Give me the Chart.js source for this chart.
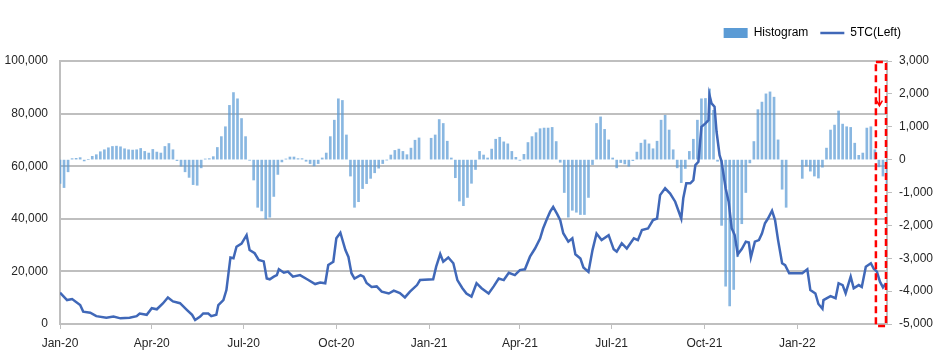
<!DOCTYPE html>
<html>
<head>
<meta charset="utf-8">
<script src="https://cdn.jsdelivr.net/npm/chart.js@4.4.1/dist/chart.umd.min.js"></script>
<style>
  html, body { margin: 0; padding: 0; background: #fff; }
  #wrap { width: 944px; height: 361px; }
</style>
</head>
<body>
<div id="wrap"><canvas id="Chart"></canvas></div>
<script>
// x values are days counted from 1 Jan 2020
var quarterDays = [0, 91, 182, 274, 366, 456, 547, 639, 731];
var quarterLabels = ['Jan-20', 'Apr-20', 'Jul-20', 'Oct-20', 'Jan-21', 'Apr-21', 'Jul-21', 'Oct-21', 'Jan-22'];

// 5TC line (left axis)
var lineDays = [0, 7, 12, 20, 23, 30, 36, 46, 53, 60, 69, 76, 79, 86, 91, 96, 102, 107, 112, 119,
    126, 131, 134, 139, 142, 147, 150, 155, 157, 162, 165, 169, 172, 175, 180, 185, 188, 193, 197, 202,
    205, 208, 212, 215, 217, 222, 226, 231, 238, 245, 253, 258, 263, 266, 271, 274, 278, 283, 286, 289,
    292, 298, 301, 304, 309, 314, 319, 326, 331, 337, 342, 347, 354, 357, 370, 373, 377, 380, 385, 390,
    394, 399, 403, 408, 413, 418, 425, 430, 435, 440, 445, 451, 456, 461, 466, 471, 476, 479, 483, 486,
    489, 493, 496, 499, 504, 508, 511, 516, 519, 524, 528, 532, 537, 544, 549, 552, 557, 562, 569, 573,
    577, 583, 588, 592, 595, 600, 605, 610, 616, 618, 621, 625, 628, 630, 633, 636, 640, 643, 644, 646,
    649, 651, 654, 656, 660, 663, 666, 669, 672, 676, 680, 683, 685, 689, 693, 696, 699, 702, 706, 709,
    712, 716, 719, 723, 731, 736, 741, 744, 749, 752, 756, 757, 764, 769, 772, 776, 779, 784, 787, 792,
    795, 799, 804, 807, 810, 813, 816, 819];
var lineValues = [11900, 9100, 9500, 7200, 4700, 4300, 3000, 2400, 2800, 2150, 2400, 3000, 4000, 3500, 6000, 5600, 7800, 10100, 8600, 7900,
    5300, 3500, 1500, 2800, 4000, 4000, 3000, 3500, 7200, 9100, 12900, 25300, 25000, 29400, 30600, 33800, 28100, 26900, 24400, 23800,
    17300, 17000, 18000, 18600, 20800, 19500, 19900, 18000, 18600, 17000, 15200, 15800, 15500, 22400, 23700, 32600, 34700, 28100, 25500, 19300,
    17300, 18600, 18000, 15600, 14100, 14300, 12300, 11600, 12700, 11800, 10100, 12300, 14800, 16700, 17000, 21800, 26600, 23700, 25300, 23100,
    16700, 13600, 11600, 10400, 15500, 13600, 11600, 14300, 17300, 16700, 19500, 18600, 20500, 20800, 25600, 28700, 32500, 36300, 40100, 42700,
    44500, 41800, 39500, 34500, 31300, 32600, 26500, 24900, 21500, 19800, 28100, 34400, 31900, 33800, 28400, 27500, 30700, 28700, 32600, 31900,
    35700, 36300, 39500, 40100, 49000, 51600, 49600, 46500, 40100, 47800, 53500, 53500, 54700, 60400, 61700, 75000, 76300, 77500, 87000, 83900,
    82600, 73100, 64200, 61700, 51600, 46500, 36400, 33800, 26500, 28500, 31300, 31000, 25300, 31300, 31900, 34400, 38300, 40100, 43100, 39500,
    31900, 23100, 22400, 19300, 19300, 19300, 20800, 12900, 11600, 7600, 5800, 9100, 10600, 9800, 15500, 14800, 11700, 18000, 13600, 14800,
    14100, 21800, 23100, 20900, 19900, 16100, 13900, 15500];

// histogram (right axis), one bar every 4 days, null = holiday gap
var histStep = 4;
var histValues = [-720, -850, -370, 30, 40, 60, -40, 0, 100, 150, 240, 300, 360, 400, 410, 390, 330, 300, 290, 300,
    340, 250, 200, 310, 230, 200, 400, 490, 300, -30, -200, -370, -540, -760, -780, -250, 20, 30, 90, 370,
    700, 1000, 1650, 2040, 1850, 1250, 700, -20, -620, -1450, -1560, -1800, -1750, -1120, -450, -70, 20, 80, 80, 30,
    30, -50, -120, -190, -120, 50, 200, 700, 1200, 1850, 1800, 750, -500, -1450, -1280, -880, -730, -570, -400, -260,
    -120, -10, 140, 280, 320, 250, 150, 350, 590, 660, null, null, 650, 750, 1220, 1100, 560, 50, -550, -1260,
    -1400, -1150, -720, -300, 250, 140, 50, 320, 620, 680, 540, 480, 250, 70, -20, 160, 520, 700, 820, 940,
    960, 960, 980, 550, -80, -1000, -1750, -1540, -1600, -1670, -1670, -1150, -150, 1100, 1300, 920, 600, 50, -250, -90,
    -130, -200, -30, 230, 500, 600, 480, 330, 560, 1200, 1350, 900, 300, -250, -700, -270, 250, 620, 1200, 1850,
    1860, 2150, 1500, -50, -2000, -3850, -4450, -3950, -2950, -1950, -1000, -100, 550, 1520, 1750, 2000, 2060, 1900, 600, -900,
    -1450, null, null, null, -570, -200, -350, -500, -560, -230, 350, 900, 1050, 1480, 1080, 1000, 980, 500, 130, 200,
    960, 1000, 300, -220, -500, -870];

// red dashed box marking the latest days, and its arrow
var markFrom = 809;
var markTo = 819;
var arrowDay = 812.5;
var arrowTop = 89500;
var arrowBottom = 83000;

var histData = histValues.map((v, i) => ({ x: i * histStep, y: v }));
var lineData = lineDays.map((d, i) => ({ x: d, y: lineValues[i] }));

Chart.defaults.font.family = "'Liberation Sans', Arial, sans-serif";
Chart.defaults.font.size = 12;
Chart.defaults.color = '#262626';

var gridColour = '#bfbfbf';

// pushes the plot down below the legend and moves the legend in from the right edge
var legendSpace = {
    id: 'legendSpace',
    beforeInit(chart) {
        var fit = chart.legend.fit;
        chart.legend.fit = function () {
            fit.bind(chart.legend)();
            this.height += 12;
        };
    },
    afterLayout(chart) {
        chart.legend.right = chart.width - 31;
    }
};

// draws the red dashed box and the down arrow
var markBox = {
    id: 'markBox',
    afterDatasetsDraw(chart) {
        var ctx = chart.ctx, area = chart.chartArea, xs = chart.scales.x, ys = chart.scales.y;
        var x1 = xs.getPixelForValue(markFrom), x2 = xs.getPixelForValue(markTo);
        ctx.save();
        ctx.strokeStyle = '#ff0000';
        ctx.lineWidth = 2.5;
        ctx.setLineDash([7, 4]);
        ctx.strokeRect(x1, area.top + 1, x2 - x1, area.bottom - area.top + 1);
        var ax = xs.getPixelForValue(arrowDay);
        var ay1 = ys.getPixelForValue(arrowTop), ay2 = ys.getPixelForValue(arrowBottom);
        ctx.setLineDash([]);
        ctx.lineWidth = 1.5;
        ctx.beginPath();
        ctx.moveTo(ax, ay1);
        ctx.lineTo(ax, ay2);
        ctx.moveTo(ax - 3, ay2 - 5);
        ctx.lineTo(ax, ay2);
        ctx.lineTo(ax + 3, ay2 - 5);
        ctx.stroke();
        ctx.restore();
    }
};

var ctx = document.getElementById('Chart').getContext('2d');
this.chart = new Chart(ctx, {
    type: 'bar',
    data: {
        datasets: [{
            type: 'bar',
            label: 'Histogram',
            data: histData,
            yAxisID: 'y1',
            backgroundColor: 'rgba(91,155,213,0.72)',
            borderWidth: 0,
            barThickness: 2,
            order: 1
        }, {
            type: 'line',
            label: '5TC(Left)',
            data: lineData,
            yAxisID: 'y',
            borderColor: '#4068b8',
            backgroundColor: '#4068b8',
            borderWidth: 2.5,
            pointRadius: 0,
            tension: 0,
            fill: false,
            order: 0
        }]
    },
    options: {
        responsive: true,
        maintainAspectRatio: false,
        animation: false,
        layout: { padding: { top: 15, right: 0, left: 0, bottom: 0 } },
        plugins: {
            legend: {
                position: 'top',
                align: 'end',
                labels: {
                    usePointStyle: true,
                    pointStyleWidth: 24,
                    boxHeight: 10,
                    padding: 12,
                    color: '#262626',
                    generateLabels(chart) {
                        return chart.data.datasets.map((ds, i) => ({
                            text: ds.label,
                            datasetIndex: i,
                            fillStyle: i === 0 ? '#5b9bd5' : ds.borderColor,
                            strokeStyle: i === 0 ? '#5b9bd5' : ds.borderColor,
                            lineWidth: i === 0 ? 0 : 2.5,
                            pointStyle: i === 0 ? 'rect' : 'line',
                            hidden: false
                        }));
                    }
                }
            },
            tooltip: { enabled: false }
        },
        scales: {
            x: {
                type: 'linear',
                min: 0,
                max: 820,
                offset: false,
                afterBuildTicks(scale) {
                    scale.ticks = quarterDays.map(v => ({ value: v }));
                },
                afterFit(scale) { scale.height = 37; },
                ticks: {
                    autoSkip: false,
                    maxRotation: 0,
                    padding: 7,
                    callback: v => quarterLabels[quarterDays.indexOf(v)]
                },
                grid: { drawOnChartArea: false, drawTicks: true, tickLength: 5, color: gridColour, offset: false },
                border: { color: gridColour, width: 2 }
            },
            y: {
                position: 'left',
                min: 0,
                max: 100000,
                afterFit(scale) { scale.width = 60; },
                ticks: {
                    stepSize: 20000,
                    padding: 12,
                    callback: v => v.toLocaleString('en-US')
                },
                grid: { color: gridColour, lineWidth: 2, drawTicks: false },
                border: { color: gridColour, width: 2 }
            },
            y1: {
                position: 'right',
                min: -5000,
                max: 3000,
                afterFit(scale) { scale.width = 57; },
                ticks: {
                    stepSize: 1000,
                    padding: 7,
                    callback: v => v.toLocaleString('en-US')
                },
                grid: { drawOnChartArea: false, drawTicks: true, tickLength: 5, color: gridColour },
                border: { color: gridColour, width: 2 }
            }
        }
    },
    plugins: [legendSpace, markBox]
});
</script>
</body>
</html>
